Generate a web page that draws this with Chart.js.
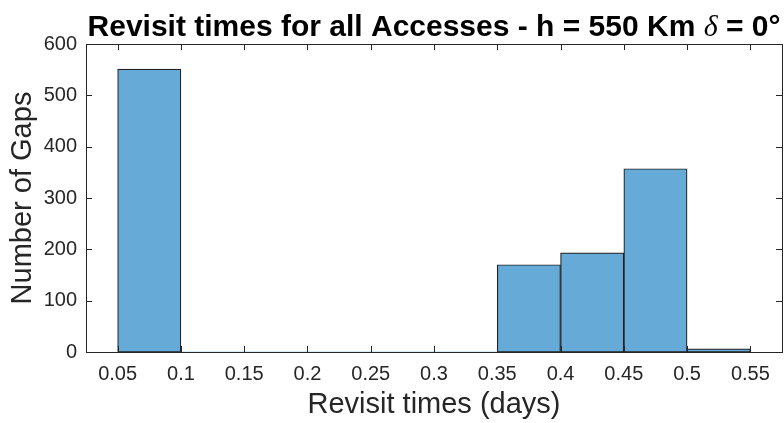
<!DOCTYPE html>
<html>
<head>
<meta charset="utf-8">
<script src="https://cdn.jsdelivr.net/npm/chart.js@4.4.1/dist/chart.umd.min.js"></script>
<style>
  html, body { margin: 0; padding: 0; background: #ffffff; }
  #wrap { width: 784px; height: 423px; }
</style>
</head>
<body>
<div id="wrap"><canvas id="c" width="784" height="423"></canvas></div>
<script>
// Histogram of revisit gaps (days): bin edges and counts per bin
const binEdges = [0.05, 0.10, 0.15, 0.20, 0.25, 0.30, 0.35, 0.40, 0.45, 0.50, 0.55];
const binCounts = [551, 0, 0, 0, 0, 0, 170, 193, 357, 6];

// Axis ticks
const xTickValues = [0.05, 0.10, 0.15, 0.20, 0.25, 0.30, 0.35, 0.40, 0.45, 0.50, 0.55];
const xTickLabels = ['0.05', '0.1', '0.15', '0.2', '0.25', '0.3', '0.35', '0.4', '0.45', '0.5', '0.55'];
const yTickValues = [0, 100, 200, 300, 400, 500, 600];
const yTickLabels = ['0', '100', '200', '300', '400', '500', '600'];

const INK = '#262626';
const FONT = '"Liberation Sans", Arial, Helvetica, sans-serif';

// One bar per bin, centred between its edges
const barPoints = binCounts.map((c, i) => ({ x: (binEdges[i] + binEdges[i + 1]) / 2, y: c }));

// Box around the plot area with inward tick marks on all four sides
const boxTicks = {
  id: 'boxTicks',
  afterDatasetsDraw(chart) {
    const { ctx, chartArea: a, scales } = chart;
    const len = 6;
    ctx.save();
    ctx.strokeStyle = INK;
    ctx.lineWidth = 1;
    ctx.beginPath();
    scales.x.ticks.forEach(t => {
      const px = Math.round(scales.x.getPixelForValue(t.value)) + 0.5;
      ctx.moveTo(px, a.bottom); ctx.lineTo(px, a.bottom - len);
      ctx.moveTo(px, a.top); ctx.lineTo(px, a.top + len);
    });
    scales.y.ticks.forEach(t => {
      const py = Math.round(scales.y.getPixelForValue(t.value)) + 0.5;
      ctx.moveTo(a.left, py); ctx.lineTo(a.left + len, py);
      ctx.moveTo(a.right, py); ctx.lineTo(a.right - len, py);
    });
    ctx.stroke();
    ctx.strokeRect(Math.round(a.left) + 0.5, Math.round(a.top) + 0.5,
                   Math.round(a.right - a.left), Math.round(a.bottom - a.top));
    ctx.restore();
  }
};

// Title with an italic Greek delta
const titleParts = [
  { text: 'Revisit times for all Accesses - h = 550 Km ', font: 'bold 30px ' + FONT },
  { text: 'δ', font: 'italic 30px "Liberation Serif", "Times New Roman", serif' },
  { text: ' = 0°', font: 'bold 30px ' + FONT }
];
const richTitle = {
  id: 'richTitle',
  afterDraw(chart) {
    const { ctx, chartArea: a } = chart;
    ctx.save();
    ctx.fillStyle = '#000000';
    ctx.textBaseline = 'alphabetic';
    ctx.textAlign = 'left';
    let total = 0;
    titleParts.forEach(p => { ctx.font = p.font; p.w = ctx.measureText(p.text).width; total += p.w; });
    let x = (a.left + a.right) / 2 - total / 2;
    titleParts.forEach(p => { ctx.font = p.font; ctx.fillText(p.text, x, 36); x += p.w; });
    ctx.restore();
  }
};

new Chart(document.getElementById('c'), {
  type: 'bar',
  data: {
    datasets: [{
      data: barPoints,
      backgroundColor: 'rgb(102,170,215)',
      borderColor: '#222222',
      borderWidth: ctx => (ctx.raw && ctx.raw.y > 0 ? 1.2 : 0),
      borderSkipped: false,
      barPercentage: 1,
      categoryPercentage: 1
    }]
  },
  options: {
    responsive: false,
    animation: false,
    devicePixelRatio: 1,
    layout: { padding: { left: 0, right: 2, top: 44, bottom: 0 } },
    plugins: { legend: { display: false }, tooltip: { enabled: false }, title: { display: false } },
    scales: {
      x: {
        type: 'linear',
        min: 0.025,
        max: 0.575,
        offset: false,
        grid: { display: false, drawTicks: false },
        border: { display: false },
        afterBuildTicks: s => { s.ticks = xTickValues.map(v => ({ value: v })); },
        afterFit: s => { s.height = 71; },
        ticks: {
          autoSkip: false,
          maxRotation: 0,
          padding: 10,
          color: INK,
          font: { family: FONT, size: 20 },
          callback: (v) => { const i = xTickValues.findIndex(t => Math.abs(t - v) < 1e-9); return i >= 0 ? xTickLabels[i] : ''; }
        },
        title: {
          display: true,
          text: 'Revisit times (days)',
          color: INK,
          font: { family: FONT, size: 29 },
          padding: { top: 0, bottom: 1 }
        }
      },
      y: {
        min: 0,
        max: 600,
        grid: { display: false, drawTicks: false },
        border: { display: false },
        afterBuildTicks: s => { s.ticks = yTickValues.map(v => ({ value: v })); },
        afterFit: s => { s.width = 86; },
        ticks: {
          padding: 9,
          color: INK,
          font: { family: FONT, size: 20 },
          callback: (v) => { const i = yTickValues.indexOf(v); return i >= 0 ? yTickLabels[i] : ''; }
        },
        title: {
          display: true,
          text: 'Number of Gaps',
          color: INK,
          font: { family: FONT, size: 29 },
          padding: { top: 6, bottom: 0 }
        }
      }
    }
  },
  plugins: [boxTicks, richTitle]
});
</script>
</body>
</html>
